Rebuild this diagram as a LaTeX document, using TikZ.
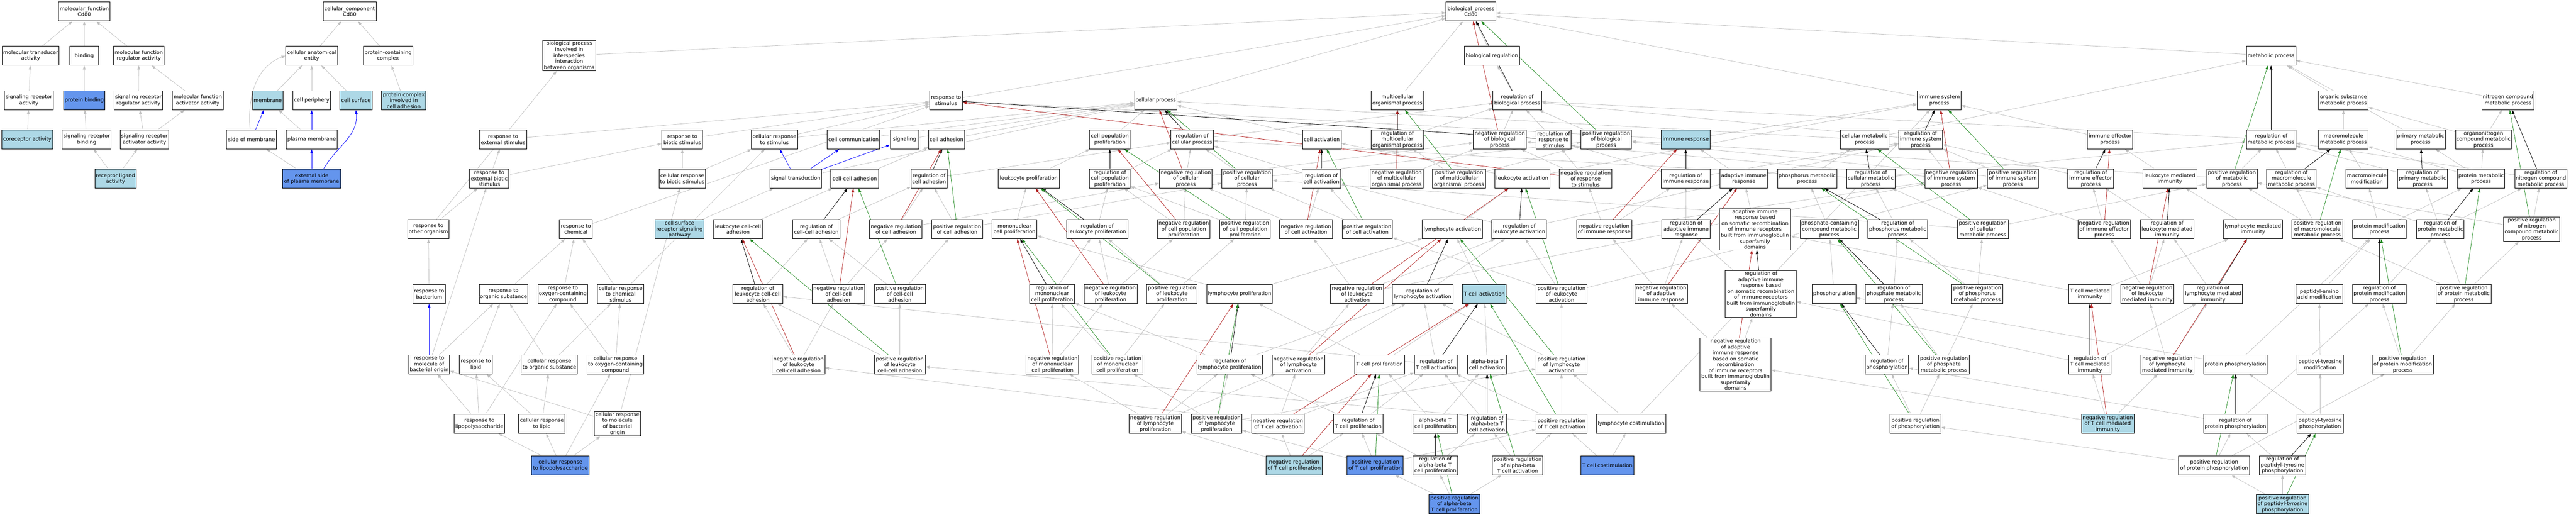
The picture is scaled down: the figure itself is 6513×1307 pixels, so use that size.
\documentclass[tikz,border=0pt]{standalone}
\usepackage{fontspec}
\setmainfont{DejaVu Sans}
\usetikzlibrary{arrows.meta}
\definecolor{lbc}{HTML}{ADD8E6}
\definecolor{cbc}{HTML}{6495ED}
\definecolor{grc}{HTML}{C0C0C0}
\definecolor{rdc}{HTML}{B22222}
\definecolor{gnc}{HTML}{228B22}
\pgfdeclarelayer{bg}\pgfsetlayers{bg,main}
\newcommand\nd[5][]{\node[box,minimum width=#4pt,#1] (#2) at (#3) {#5};}
\begin{document}
\begin{tikzpicture}[x=1pt,y=-1pt,
 box/.style={draw=black,line width=1.2pt,fill=white,font=\fontsize{13}{15}\selectfont,align=center,inner xsep=2pt,inner ysep=2pt,minimum height=48pt},
 lbx/.style={fill=lbc}, cbx/.style={fill=cbc},
 ed/.style={line width=1pt,-{Triangle[length=10pt,width=7pt]}},
 gE/.style={ed,draw=grc},
 bE/.style={ed,draw=blue},
 kE/.style={ed,draw=black},
 rE/.style={ed,draw=rdc},
 pE/.style={ed,draw=gnc}]
\useasboundingbox (0,0) rectangle (6513,1307);
% ---------- molecular function
\nd{mf}{213,29}{131}{molecular\_function\\Cd80}
\nd{mta}{77.5,141}{144}{molecular transducer\\activity}
\nd{bind}{213,141}{72}{binding}
\nd{mfra}{351,141}{128}{molecular function\\regulator activity}
\nd{sra}{73,254}{123}{signaling receptor\\activity}
\nd[cbx]{pb}{213,254}{104}{protein binding}
\nd{srra}{350,254}{123}{signaling receptor\\regulator activity}
\nd{mfaa}{500,254}{128}{molecular function\\activator activity}
\nd[lbx]{cra}{69,353}{128}{coreceptor activity}
\nd{srb}{219,353}{124}{signaling receptor\\binding}
\nd{sraa}{365,353}{123}{signaling receptor\\activator activity}
\nd[lbx]{rla}{292,452}{104}{receptor ligand\\activity}
% ---------- cellular component
\nd{cc}{884,29}{134}{cellular\_component\\Cd80}
\nd{cae}{788,141}{131}{cellular anatomical\\entity}
\nd{pcc}{981,141}{125}{protein-containing\\complex}
\nd[lbx]{mem}{677,254}{77}{membrane}
\nd{cper}{788,254}{94}{cell periphery}
\nd[lbx]{csurf}{900,254}{81}{cell surface}
\nd[lbx]{pcica}{1021,254}{112}{protein complex\\involved in\\cell adhesion}
\nd{som}{636,353}{126}{side of membrane}
\nd{pm}{788,353}{129}{plasma membrane}
\nd[cbx]{espm}{788,452}{147}{external side\\of plasma membrane}
% ---------- biological process rows 0-2
\nd{bp}{3719,29}{126}{biological\_process\\Cd80}
\nd{bpiii}{1439,141}{134}{biological process\\involved in\\interspecies\\interaction\\between organisms}
\nd{breg}{3772,141}{139}{biological regulation}
\nd{mp}{5742,141}{125}{metabolic process}
\nd{rts}{2392,254}{83}{response to\\stimulus}
\nd{cp}{2922,254}{107}{cellular process}
\nd{mop}{3533,254}{133}{multicellular\\organismal process}
\nd{rbp}{3836,254}{123}{regulation of\\biological process}
\nd{isp}{4903,254}{111}{immune system\\process}
\nd{osmp}{5925,254}{125}{organic substance\\metabolic process}
\nd{ncmp}{6341,254}{130}{nitrogen compound\\metabolic process}
% row 3
\nd{rtes}{1272,353}{120}{response to\\external stimulus}
\nd{rtbs}{1725,353}{103}{response to\\biotic stimulus}
\nd{crts}{1958,353}{117}{cellular response\\to stimulus}
\nd{ccom}{2158,353}{133}{cell communication}
\nd{sig}{2287,353}{72}{signaling}
\nd{cad}{2393,353}{91}{cell adhesion}
\nd{cpp}{2806,353}{103}{cell population\\proliferation}
\nd{rcp}{3014,353}{108}{regulation of\\cellular process}
\nd{cact}{3342,353}{98}{cell activation}
\nd{rmop}{3533,353}{133}{regulation of\\multicellular\\organismal process}
\nd{nrbp}{3792,353}{134}{negative regulation\\of biological\\process}
\nd{rrts}{3928,353}{88}{regulation of\\response to\\stimulus}
\nd{prbp}{4061,353}{128}{positive regulation\\of biological\\process}
\nd[lbx]{ir}{4262,353}{123}{immune response}
\nd{cmp}{4714.5,353}{123}{cellular metabolic\\process}
\nd{risp}{4856,353}{111}{regulation of\\immune system\\process}
\nd{iep}{5335,353}{115}{immune effector\\process}
\nd{rmp}{5742,353}{125}{regulation of\\metabolic process}
\nd{mmp}{5925,353}{125}{macromolecule\\metabolic process}
\nd{pmp}{6120,353}{126}{primary metabolic\\process}
\nd{oncmp}{6279,353}{141}{organonitrogen\\compound metabolic\\process}
% row 4
\nd{rtebs}{1237,452}{99}{response to\\external biotic\\stimulus}
\nd{crtbs}{1725,452}{117}{cellular response\\to biotic stimulus}
\nd{st}{2012,452}{130}{signal transduction}
\nd{cca}{2161,452}{120}{cell-cell adhesion}
\nd{rca}{2349,452}{91}{regulation of\\cell adhesion}
\nd{lp}{2601,452}{155}{leukocyte proliferation}
\nd{rcpp}{2806,452}{103}{regulation of\\cell population\\proliferation}
\nd{nrcp}{2998,452}{133}{negative regulation\\of cellular\\process}
\nd{prcp}{3153,452}{128}{positive regulation\\of cellular\\process}
\nd{rcact}{3341,452}{98}{regulation of\\cell activation}
\nd{nrmop}{3531,452}{134}{negative regulation\\of multicellular\\organismal process}
\nd{prmop}{3689,452}{134}{positive regulation\\of multicellular\\organismal process}
\nd{la}{3849,452}{139}{leukocyte activation}
\nd{nrrts}{4009,452}{133}{negative regulation\\of response\\to stimulus}
\nd{rir}{4262,452}{123}{regulation of\\immune response}
\nd{air}{4409,452}{120}{adaptive immune\\response}
\nd{phmp}{4569,452}{150}{phosphorus metabolic\\process}
\nd{rcmp}{4730,452}{122}{regulation of\\cellular metabolic\\process}
\nd{nrisp}{4933,452}{133}{negative regulation\\of immune system\\process}
\nd{prisp}{5089,452}{128}{positive regulation\\of immune system\\process}
\nd{riep}{5286,452}{115}{regulation of\\immune effector\\process}
\nd{lmi}{5486,452}{137}{leukocyte mediated\\immunity}
\nd{prmp}{5643,452}{128}{positive regulation\\of metabolic\\process}
\nd{rmmp}{5793.5,452}{125}{regulation of\\macromolecule\\metabolic process}
\nd{mmod}{5984,452}{106}{macromolecule\\modification}
\nd{rpmp}{6125,452}{126}{regulation of\\primary metabolic\\process}
\nd{prmetp}{6273,452}{120}{protein metabolic\\process}
\nd{rncmp}{6424,452}{131}{regulation of\\nitrogen compound\\metabolic process}
% row 5
\nd{rtoo}{1083,580}{105}{response to\\other organism}
\nd{rtc}{1456,580}{83}{response to\\chemical}
\nd[lbx]{csrsp}{1718,580}{124}{cell surface\\receptor signaling\\pathway}
\nd{lcca}{1866,580}{126}{leukocyte cell-cell\\adhesion}
\nd{rcca}{2064,580}{120}{regulation of\\cell-cell adhesion}
\nd{nrca}{2265,580}{133}{negative regulation\\of cell adhesion}
\nd{prca}{2420,580}{128}{positive regulation\\of cell adhesion}
\nd{mcp}{2565,580}{113}{mononuclear\\cell proliferation}
\nd{rlp}{2774,580}{155}{regulation of\\leukocyte proliferation}
\nd{nrcpp}{2993,580}{133}{negative regulation\\of cell population\\proliferation}
\nd{prcpp}{3148,580}{128}{positive regulation\\of cell population\\proliferation}
\nd{nrcact}{3302,580}{134}{negative regulation\\of cell activation}
\nd{prcact}{3457,580}{127}{positive regulation\\of cell activation}
\nd{lact}{3672,580}{152}{lymphocyte activation}
\nd{rleuka}{3841,580}{138}{regulation of\\leukocyte activation}
\nd{nrir}{4056,580}{139}{negative regulation\\of immune response}
\nd{rair}{4263,580}{122}{regulation of\\adaptive immune\\response}
\nd{airb}{4437,580}{180}{adaptive immune\\response based\\on somatic recombination\\of immune receptors\\built from immunoglobulin\\superfamily\\domains}
\nd{pccmp}{4625,580}{147}{phosphate-containing\\compound metabolic\\process}
\nd{rphmp}{4798,580}{150}{regulation of\\phosphorus metabolic\\process}
\nd{prcmp}{5013,580}{129}{positive regulation\\of cellular\\metabolic process}
\nd{nriep}{5320,580}{133}{negative regulation\\of immune effector\\process}
\nd{rlmi}{5479,580}{136}{regulation of\\leukocyte mediated\\immunity}
\nd{lymi}{5696,580}{149}{lymphocyte mediated\\immunity}
\nd{prmmp}{5859,580}{128}{positive regulation\\of macromolecule\\metabolic process}
\nd{pmodp}{6016,580}{136}{protein modification\\process}
\nd{rprmp}{6170,580}{120}{regulation of\\protein metabolic\\process}
\nd{prncmp}{6401,580}{141}{positive regulation\\of nitrogen\\compound metabolic\\process}
% row 6
\nd{rtb}{1085,744}{83}{response to\\bacterium}
\nd{rtos}{1273,744}{123}{response to\\organic substance}
\nd{rtocc}{1423,744}{126}{response to\\oxygen-containing\\compound}
\nd{crtcs}{1569,744}{117}{cellular response\\to chemical\\stimulus}
\nd{rlcca}{1916,744}{126}{regulation of\\leukocyte cell-cell\\adhesion}
\nd{nrcca}{2120,744}{133}{negative regulation\\of cell-cell\\adhesion}
\nd{prcca}{2275,744}{129}{positive regulation\\of cell-cell\\adhesion}
\nd{rmcp}{2660,744}{113}{regulation of\\mononuclear\\cell proliferation}
\nd{nrlp}{2808,744}{134}{negative regulation\\of leukocyte\\proliferation}
\nd{prlp}{2963,744}{128}{positive regulation\\of leukocyte\\proliferation}
\nd{lyp}{3134,744}{166}{lymphocyte proliferation}
\nd{nrla}{3431,744}{134}{negative regulation\\of leukocyte\\activation}
\nd{rlya}{3597,744}{153}{regulation of\\lymphocyte activation}
\nd[lbx]{tca}{3753,744}{111}{T cell activation}
\nd{prla}{3948,744}{128}{positive regulation\\of leukocyte\\activation}
\nd{nrair}{4200,744}{133}{negative regulation\\of adaptive\\immune response}
\nd{rairb}{4452,744}{180}{regulation of\\adaptive immune\\response based\\on somatic recombination\\of immune receptors\\built from immunoglobulin\\superfamily\\domains}
\nd{phos}{4637,744}{111}{phosphorylation}
\nd{rphtmp}{4788,744}{144}{regulation of\\phosphate metabolic\\process}
\nd{prphmp}{4999,744}{129}{positive regulation\\of phosphorus\\metabolic process}
\nd{tcmi}{5284,744}{107}{T cell mediated\\immunity}
\nd{nrlmi}{5429,744}{134}{negative regulation\\of leukocyte\\mediated immunity}
\nd{rlymi}{5595.5,744}{149}{regulation of\\lymphocyte mediated\\immunity}
\nd{paam}{5864,744}{118}{peptidyl-amino\\acid modification}
\nd{rpmodp}{6016,744}{136}{regulation of\\protein modification\\process}
\nd{prprmp}{6229,744}{139}{positive regulation\\of protein metabolic\\process}
% row 7
\nd{rtmbo}{1085,922}{104}{response to\\molecule of\\bacterial origin}
\nd{rtl}{1203,922}{83}{response to\\lipid}
\nd{crtos}{1389,922}{142}{cellular response\\to organic substance}
\nd{crtocc}{1556,922}{144}{cellular response\\to oxygen-containing\\compound}
\nd{nrlcca}{2019,922}{133}{negative regulation\\of leukocyte\\cell-cell adhesion}
\nd{prlcca}{2275,922}{129}{positive regulation\\of leukocyte\\cell-cell adhesion}
\nd{nrmcp}{2661,922}{133}{negative regulation\\of mononuclear\\cell proliferation}
\nd{prmcp}{2825,922}{129}{positive regulation\\of mononuclear\\cell proliferation}
\nd{rlyp}{3109,922}{166}{regulation of\\lymphocyte proliferation}
\nd{nrlya}{3283,922}{133}{negative regulation\\of lymphocyte\\activation}
\nd{tcp}{3488,922}{127}{T cell proliferation}
\nd{rtca}{3631,922}{110}{regulation of\\T cell activation}
\nd{abtca}{3760,922}{98}{alpha-beta T\\cell activation}
\nd{prlya}{3948,922}{128}{positive regulation\\of lymphocyte\\activation}
\nd{nrairb}{4388,922}{180}{negative regulation\\of adaptive\\immune response\\based on somatic\\recombination\\of immune receptors\\built from immunoglobulin\\superfamily\\domains}
\nd{rphos}{4771,922}{110}{regulation of\\phosphorylation}
\nd{prphtmp}{4915,922}{129}{positive regulation\\of phosphate\\metabolic process}
\nd{rtcmi}{5284,922}{107}{regulation of\\T cell mediated\\immunity}
\nd{nrlymi}{5480,922}{135}{negative regulation\\of lymphocyte\\mediated immunity}
\nd{pp}{5652,922}{160}{protein phosphorylation}
\nd{ptm}{5866,922}{118}{peptidyl-tyrosine\\modification}
\nd{prpmodp}{6075,922}{155}{positive regulation\\of protein modification\\process}
% row 8
\nd{rtlps}{1212,1072}{128}{response to\\lipopolysaccharide}
\nd{crtl}{1370,1072}{117}{cellular response\\to lipid}
\nd{crtmbo}{1561,1072}{117}{cellular response\\to molecule\\of bacterial\\origin}
\nd{nrlyp}{2921,1072}{133}{negative regulation\\of lymphocyte\\proliferation}
\nd{prlyp}{3076,1072}{127}{positive regulation\\of lymphocyte\\proliferation}
\nd{nrtca}{3231,1072}{134}{negative regulation\\of T cell activation}
\nd{rtcp}{3434,1072}{125}{regulation of\\T cell proliferation}
\nd{abtcp}{3629,1072}{113}{alpha-beta T\\cell proliferation}
\nd{rabtca}{3760,1072}{98}{regulation of\\alpha-beta T\\cell activation}
\nd{prtca}{3948,1072}{128}{positive regulation\\of T cell activation}
\nd{lcs}{4124,1072}{177}{lymphocyte costimulation}
\nd{prphos}{4843,1072}{128}{positive regulation\\of phosphorylation}
\nd[lbx]{nrtcmi}{5329,1072}{133}{negative regulation\\of T cell mediated\\immunity}
\nd{rpp}{5652,1072}{160}{regulation of\\protein phosphorylation}
\nd{ptp}{5866,1072}{118}{peptidyl-tyrosine\\phosphorylation}
% row 9
\nd[cbx]{crtlps}{1417,1177}{146}{cellular response\\to lipopolysaccharide}
\nd[lbx]{nrtcp}{3272,1177}{143}{negative regulation\\of T cell proliferation}
\nd[cbx]{prtcp}{3477,1177}{142}{positive regulation\\of T cell proliferation}
\nd{rabtcp}{3629,1177}{113}{regulation of\\alpha-beta T\\cell proliferation}
\nd{prabtca}{3837,1177}{128}{positive regulation\\of alpha-beta\\T cell activation}
\nd[cbx]{tcs}{4064,1177}{134}{T cell costimulation}
\nd{prpp}{5598,1177}{179}{positive regulation\\of protein phosphorylation}
\nd{rptp}{5771,1177}{118}{regulation of\\peptidyl-tyrosine\\phosphorylation}
% row 10
\nd[cbx]{prabtcp}{3677,1275}{129}{positive regulation\\of alpha-beta\\T cell proliferation}
\nd[lbx]{prptp}{5771,1275}{133}{positive regulation\\of peptidyl-tyrosine\\phosphorylation}
% ================= edges
\begin{pgfonlayer}{bg}
\foreach \a/\b in {mta/mf,bind/mf,mfra/mf,sra/mta,pb/bind,srra/mfra,mfaa/mfra,cra/sra,srb/pb,sraa/srra,sraa/mfaa,rla/srb,rla/sraa,
 cae/cc,pcc/cc,mem/cae,cper/cae,csurf/cae,pcica/pcc,pm/mem,espm/som}
 \draw[gE] (\a) -- (\b);
\draw[gE] (som.north west) ++(60,0) to[out=95,in=200] (cae.west);
\foreach \a/\b in {som/mem,pm/cper,espm/pm,rtmbo/rtb,st/crts,st/ccom,st/sig}
 \draw[bE] (\a) -- (\b);
\draw[bE] (espm.north) ++(30,0) to[out=60,in=-85] (csurf.south);
\foreach \a/\b in {bpiii/bp,rts/bp,cp/bp,breg/bp,mop/bp,isp/bp,mp/bp,
 rtes/rts,rtbs/rts,crts/rts,crts/cp,ccom/cp,sig/cp,cad/cp,cpp/cp,cact/cp,cmp/cp,rtc/rts,ir/rts,ir/isp,
 rtebs/rtes,rtebs/rtbs,crtbs/rtbs,crtbs/crts,st/cp,csrsp/st,cca/cad,lcca/cca,rcca/rca,rca/rcp,rcp/rbp,
 nrcp/rcp,nrcp/nrbp,prcp/rcp,prcp/prbp,lp/cpp,rcpp/rcp,mcp/lp,rlp/rcpp,nrcpp/rcpp,nrcpp/nrcp,prcpp/rcpp,prcpp/prcp,
 nrca/rca,nrca/nrcp,prca/rca,prca/prcp,rcact/rcp,nrcact/rcact,nrcact/nrcp,prcact/rcact,prcact/prcp,la/cact,la/isp,lact/la,
 rleuka/rcact,rleuka/risp,rmop/rbp,nrmop/rmop,nrmop/nrbp,prmop/rmop,prmop/prbp,rbp/breg,nrbp/rbp,prbp/rbp,rrts/rbp,
 nrrts/rrts,nrrts/nrbp,rir/rrts,rir/risp,nrir/rir,nrir/nrrts,nrir/nrisp,rair/rir,air/ir,airb/air,risp/rbp,nrisp/risp,nrisp/nrbp,
 prisp/risp,prisp/prbp,iep/isp,riep/risp,nriep/riep,nriep/nrisp,cmp/mp,phmp/cmp,rcmp/rcp,rcmp/rmp,prcmp/rcmp,prcmp/prcp,prcmp/prmp,
 pccmp/phmp,rphmp/rcmp,rmp/rbp,osmp/mp,ncmp/mp,pmp/mp,mmp/osmp,oncmp/osmp,oncmp/ncmp,prmp/rmp,prmp/prbp,rmmp/rmp,mmod/mmp,rpmp/rmp,
 prmetp/pmp,prmetp/mmp,prmetp/oncmp,rncmp/rmp,lmi/iep,lymi/lmi,rlmi/riep,prmmp/rmmp,prmmp/prmp,pmodp/mmod,pmodp/prmetp,
 rprmp/rmmp,rprmp/rpmp,rprmp/rncmp,prncmp/rncmp,prncmp/prmp}
 \draw[gE] (\a) -- (\b);
\foreach \a/\b in {rtoo/bpiii,rtoo/rtebs,rtb/rtoo,rtos/rtc,rtocc/rtc,crtcs/rtc,crtcs/crts,rlcca/rcca,nrcca/rcca,nrcca/nrca,prcca/rcca,prcca/prca,
 rmcp/rlp,nrlp/rlp,nrlp/nrcpp,prlp/rlp,prlp/prcpp,lyp/mcp,lyp/lact,nrla/rleuka,nrla/nrcact,nrla/nrisp,rlya/rleuka,tca/lact,
 prla/rleuka,prla/prcact,prla/prisp,nrair/rair,nrair/nrir,rairb/rair,phos/pccmp,rphtmp/rphmp,prphmp/rphmp,prphmp/prcmp,
 tcmi/lymi,tcmi/airb,nrlmi/rlmi,nrlmi/nriep,rlymi/rlmi,paam/pmodp,rpmodp/rprmp,prprmp/rprmp,prprmp/prmmp,prprmp/prncmp,
 rtmbo/rtos,rtmbo/rtebs,rtl/rtos,crtos/rtos,crtos/crtcs,crtocc/rtocc,crtocc/crtcs,nrlcca/rlcca,nrlcca/nrcca,prlcca/prcca,prlcca/rlcca,
 nrmcp/rmcp,nrmcp/nrlp,prmcp/rmcp,prmcp/prlp,rlyp/rmcp,rlyp/rlya,nrlya/rlya,nrlya/nrla,tcp/lyp,tcp/tca,rtca/rlya,rtca/rlcca,
 abtca/tca,prlya/rlya,prlya/prla,nrairb/rairb,nrairb/nrair,rphos/rphtmp,prphtmp/rphtmp,prphtmp/prphmp,rtcmi/rlymi,rtcmi/rairb,
 nrlymi/rlymi,nrlymi/nrlmi,pp/phos,pp/pmodp,ptm/paam,prpmodp/rpmodp,prpmodp/prprmp,
 rtlps/rtmbo,rtlps/rtl,rtlps/rtocc,crtl/rtl,crtl/crtos,crtmbo/rtmbo,crtmbo/crtbs,nrlyp/rlyp,nrlyp/nrmcp,nrlyp/nrlya,
 prlyp/rlyp,prlyp/prmcp,prlyp/prlya,nrtca/nrlya,nrtca/rtca,nrtca/nrlcca,rtcp/rtca,rtcp/rlyp,abtcp/tcp,abtcp/abtca,rabtca/rtca,
 prtca/rtca,prtca/prlya,prtca/prlcca,lcs/prlya,lcs/isp,prphos/rphos,prphos/prphtmp,nrtcmi/rtcmi,nrtcmi/nrlymi,nrtcmi/nrairb,
 rpp/rphos,rpp/rpmodp,ptp/pp,ptp/ptm,
 crtlps/rtlps,crtlps/crtl,crtlps/crtocc,crtlps/crtmbo,nrtcp/nrlyp,nrtcp/nrtca,nrtcp/rtcp,prtcp/rtcp,prtcp/prlyp,prtcp/prtca,
 rabtcp/rtcp,rabtcp/rabtca,prabtca/rabtca,prabtca/prtca,tcs/prtca,tcs/lcs,prpp/rpp,prpp/prpmodp,prpp/prphos,rptp/rpp,
 prabtcp/prtcp,prabtcp/rabtcp,prabtcp/prabtca,prptp/prpp,prptp/rptp}
 \draw[gE] (\a) -- (\b);
\foreach \a/\b in {rbp/bp,rcp/cp,rca/cad,rcpp/cpp,rcca/cca,rlcca/lcca,rlp/lp,rmcp/mcp,rlyp/lyp,rmop/mop,rcact/cact,rleuka/la,rlya/lact,
 rtca/tca,rtcp/tcp,rabtca/abtca,rabtcp/abtcp,rrts/rts,rir/ir,rair/air,risp/isp,riep/iep,rcmp/cmp,rphmp/phmp,rphtmp/pccmp,rphos/phos,
 rairb/airb,rtcmi/tcmi,rlmi/lmi,rlymi/lymi,rmp/mp,rmmp/mmp,rpmp/pmp,rncmp/ncmp,rprmp/prmetp,rpmodp/pmodp,rpp/pp,rptp/ptp}
 \draw[kE] (\a) -- (\b);
\foreach \a/\b in {nrbp/bp,nrcp/cp,nrca/cad,nrcca/cca,nrlcca/lcca,nrcpp/cpp,nrlp/lp,nrmcp/mcp,nrlyp/lyp,nrmop/mop,nrcact/cact,nrla/la,
 nrlya/lact,nrtca/tca,nrtcp/tcp,nrrts/rts,nrir/ir,nrair/air,nrisp/isp,nriep/iep,nrairb/airb,nrtcmi/tcmi,nrlmi/lmi,nrlymi/lymi}
 \draw[rE] (\a) -- (\b);
\foreach \a/\b in {prbp/bp,prcp/cp,prca/cad,prcca/cca,prlcca/lcca,prcpp/cpp,prlp/lp,prmcp/mcp,prlyp/lyp,prmop/mop,prcact/cact,prla/la,
 prlya/lact,prtca/tca,prtcp/tcp,prabtca/abtca,prabtcp/abtcp,prisp/isp,prcmp/cmp,prphmp/phmp,prphtmp/pccmp,prphos/phos,prmp/mp,
 prmmp/mmp,prncmp/ncmp,prprmp/prmetp,prpmodp/pmodp,prpp/pp,prptp/ptp}
 \draw[pE] (\a) -- (\b);
\end{pgfonlayer}
\end{tikzpicture}
\end{document}
